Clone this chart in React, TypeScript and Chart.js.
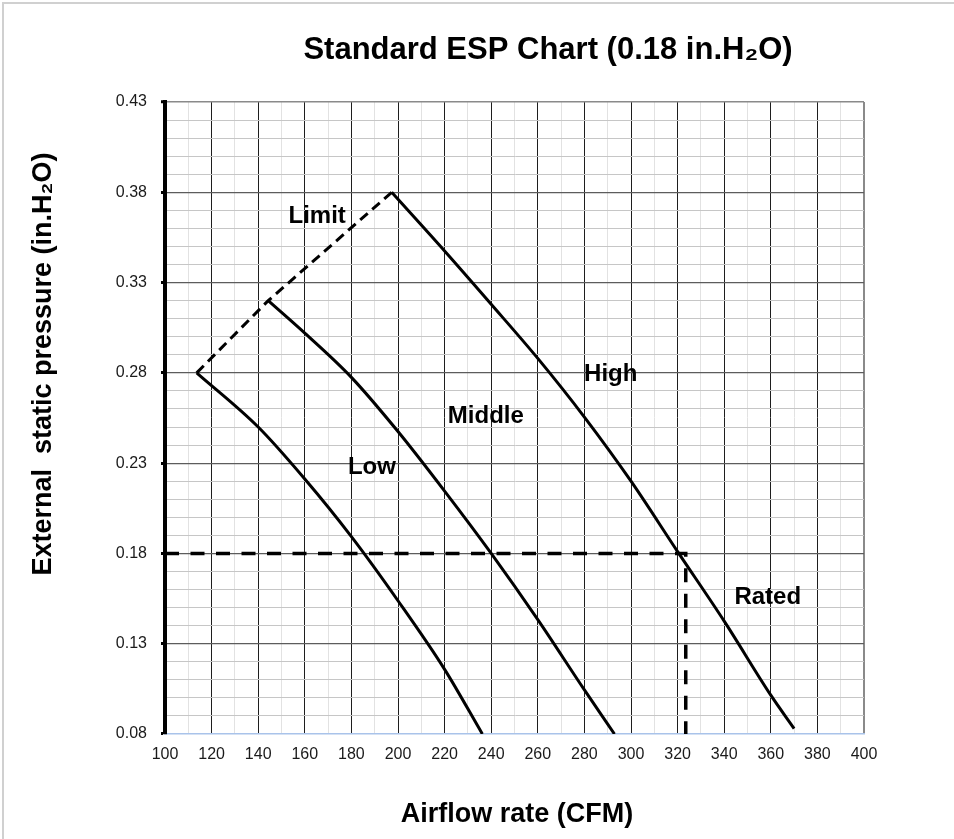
import React, { useEffect, useRef } from 'react';
import { Chart, registerables } from 'chart.js';

Chart.register(...registerables);

// ---- Text ----
const CHART_TITLE = 'Standard ESP Chart (0.18 in.H₂O)';
const X_TITLE = 'Airflow rate (CFM)';
const Y_TITLE = 'External  static pressure (in.H₂O)';

// ---- Axes ----
const X_MIN = 100;
const X_MAX = 400;
const X_STEP = 10;
const X_LABEL_EVERY = 20;
const Y_MIN = 0.08;
const Y_MAX = 0.43;
const Y_STEP = 0.01;
const Y_LABEL_EVERY = 0.05;

// ---- Fan curves (CFM, in.H2O) ----
const lowCFM = [113.6, 140, 160, 180, 200, 220, 236.2];
const lowESP = [0.28, 0.25, 0.2212, 0.1893, 0.1538, 0.1158, 0.08];

const middleCFM = [144.3, 160, 180, 200, 220, 240, 260, 280, 292.9];
const middleESP = [0.32, 0.302, 0.2775, 0.2475, 0.2145, 0.18, 0.1433, 0.1044, 0.08];

const highCFM = [197.3, 220, 240, 260, 280, 300, 320, 340, 360, 370];
const highESP = [0.38, 0.3475, 0.318, 0.288, 0.2555, 0.22, 0.181, 0.1425, 0.1015, 0.083];

const limitCFM = [113.6, 144.3, 197.3];
const limitESP = [0.28, 0.32, 0.38];

const ratedCFM = [100, 323.5, 323.5];
const ratedESP = [0.18, 0.18, 0.08];

// ---- In-chart labels (anchored in data units) ----
const labelTexts = ['Limit', 'High', 'Middle', 'Low', 'Rated'];
const labelCFM = [165.3, 291.3, 237.7, 188.8, 358.7];
const labelESP = [0.3669, 0.2791, 0.2557, 0.2274, 0.1556];

const FONT = '"Liberation Sans", Arial, Helvetica, sans-serif';

const toPoints = (xs: number[], ys: number[]) => xs.map((x, i) => ({ x, y: ys[i] }));

const decorPlugin = {
  id: 'decor',
  beforeDraw(chart: any) {
    const { ctx, width, height } = chart;
    ctx.save();
    ctx.fillStyle = '#ffffff';
    ctx.fillRect(0, 0, width, height);
    ctx.strokeStyle = '#d0d0d0';
    ctx.lineWidth = 2;
    ctx.beginPath();
    ctx.moveTo(3, height);
    ctx.lineTo(3, 3);
    ctx.lineTo(width, 3);
    ctx.stroke();
    ctx.restore();
  },
  afterDraw(chart: any) {
    const { ctx } = chart;
    const xs = chart.scales.x;
    const ys = chart.scales.y;
    ctx.save();
    ctx.fillStyle = '#000000';
    ctx.textAlign = 'center';
    ctx.textBaseline = 'middle';

    ctx.font = `bold 31px ${FONT}`;
    ctx.fillText(CHART_TITLE, 548, 50);

    ctx.font = `bold 27px ${FONT}`;
    ctx.fillText(X_TITLE, 517, 815);

    ctx.save();
    ctx.translate(43.5, 364);
    ctx.rotate(-Math.PI / 2);
    ctx.fillText(Y_TITLE, 0, 0);
    ctx.restore();

    ctx.font = `bold 24px ${FONT}`;
    labelTexts.forEach((t, i) => {
      ctx.fillText(t, xs.getPixelForValue(labelCFM[i]), ys.getPixelForValue(labelESP[i]));
    });
    ctx.restore();
  },
};

const isMultiple = (v: number, step: number, base: number) => {
  const r = (v - base) / step;
  return Math.abs(r - Math.round(r)) < 1e-6;
};

export default function App() {
  const canvasRef = useRef<HTMLCanvasElement | null>(null);

  useEffect(() => {
    if (!canvasRef.current) return;
    const curveStyle = {
      borderColor: '#000000',
      borderWidth: 3,
      pointRadius: 0,
      showLine: true,
      fill: false,
      cubicInterpolationMode: 'monotone' as const,
    };
    const chart = new Chart(canvasRef.current, {
      type: 'scatter',
      data: {
        datasets: [
          { label: 'Low', data: toPoints(lowCFM, lowESP), ...curveStyle },
          { label: 'Middle', data: toPoints(middleCFM, middleESP), ...curveStyle },
          { label: 'High', data: toPoints(highCFM, highESP), ...curveStyle },
          {
            label: 'Limit',
            data: toPoints(limitCFM, limitESP),
            borderColor: '#000000',
            borderWidth: 3,
            borderDash: [10, 6],
            pointRadius: 0,
            showLine: true,
            tension: 0,
          },
          {
            label: 'Rated',
            data: toPoints(ratedCFM, ratedESP),
            borderColor: '#000000',
            borderWidth: 3.5,
            borderDash: [14, 11.5],
            pointRadius: 0,
            showLine: true,
            tension: 0,
          },
        ],
      },
      options: {
        animation: false,
        responsive: true,
        maintainAspectRatio: false,
        devicePixelRatio: 1,
        layout: { padding: { top: 102, right: 90, left: 0, bottom: 0 } },
        plugins: {
          legend: { display: false },
          title: { display: false },
          tooltip: { enabled: false },
        },
        scales: {
          x: {
            type: 'linear',
            min: X_MIN,
            max: X_MAX,
            afterFit: (scale: any) => {
              scale.height = 105;
            },
            ticks: {
              stepSize: X_STEP,
              autoSkip: false,
              maxRotation: 0,
              padding: 11,
              color: '#1a1a1a',
              font: { family: FONT, size: 16 },
              callback: (v: any) => (isMultiple(Number(v), X_LABEL_EVERY, X_MIN) ? String(Math.round(Number(v))) : ''),
            },
            grid: {
              drawTicks: false,
              color: (c: any) => {
                const v = c.tick ? c.tick.value : NaN;
                if (Math.abs(v - X_MIN) < 1e-6) return 'rgba(0,0,0,0)';
                if (Math.abs(v - X_MAX) < 1e-6) return '#8a8a8a';
                return isMultiple(v, X_LABEL_EVERY, X_MIN) ? '#1e1e1e' : '#e2e2e2';
              },
              lineWidth: (c: any) => {
                const v = c.tick ? c.tick.value : NaN;
                if (Math.abs(v - X_MAX) < 1e-6) return 2;
                return 1;
              },
            },
            border: { display: true, color: '#a9c3ea', width: 1.5 },
          },
          y: {
            type: 'linear',
            min: Y_MIN,
            max: Y_MAX,
            afterFit: (scale: any) => {
              scale.width = 165;
            },
            ticks: {
              stepSize: Y_STEP,
              autoSkip: false,
              padding: 14,
              color: '#1a1a1a',
              font: { family: FONT, size: 16 },
              callback: (v: any) => (isMultiple(Number(v), Y_LABEL_EVERY, Y_MIN) ? Number(v).toFixed(2) : ''),
            },
            grid: {
              drawTicks: true,
              tickLength: 4,
              tickWidth: 3,
              tickColor: (c: any) => {
                const v = c.tick ? c.tick.value : NaN;
                return isMultiple(v, Y_LABEL_EVERY, Y_MIN) ? '#000000' : 'rgba(0,0,0,0)';
              },
              color: (c: any) => {
                const v = c.tick ? c.tick.value : NaN;
                if (Math.abs(v - Y_MIN) < 1e-6) return 'rgba(0,0,0,0)';
                if (Math.abs(v - Y_MAX) < 1e-6) return '#8a8a8a';
                return isMultiple(v, Y_LABEL_EVERY, Y_MIN) ? '#5c5c5c' : '#c6c6c6';
              },
              lineWidth: (c: any) => {
                const v = c.tick ? c.tick.value : NaN;
                if (Math.abs(v - Y_MAX) < 1e-6) return 1.5;
                return isMultiple(v, Y_LABEL_EVERY, Y_MIN) ? 1.2 : 1;
              },
            },
            border: { display: true, color: '#000000', width: 4 },
          },
        },
      },
      plugins: [decorPlugin],
    });
    return () => chart.destroy();
  }, []);

  return (
    <div style={{ position: 'fixed', left: 0, top: 0, width: 954, height: 839, background: '#fff' }}>
      <canvas ref={canvasRef} />
    </div>
  );
}
